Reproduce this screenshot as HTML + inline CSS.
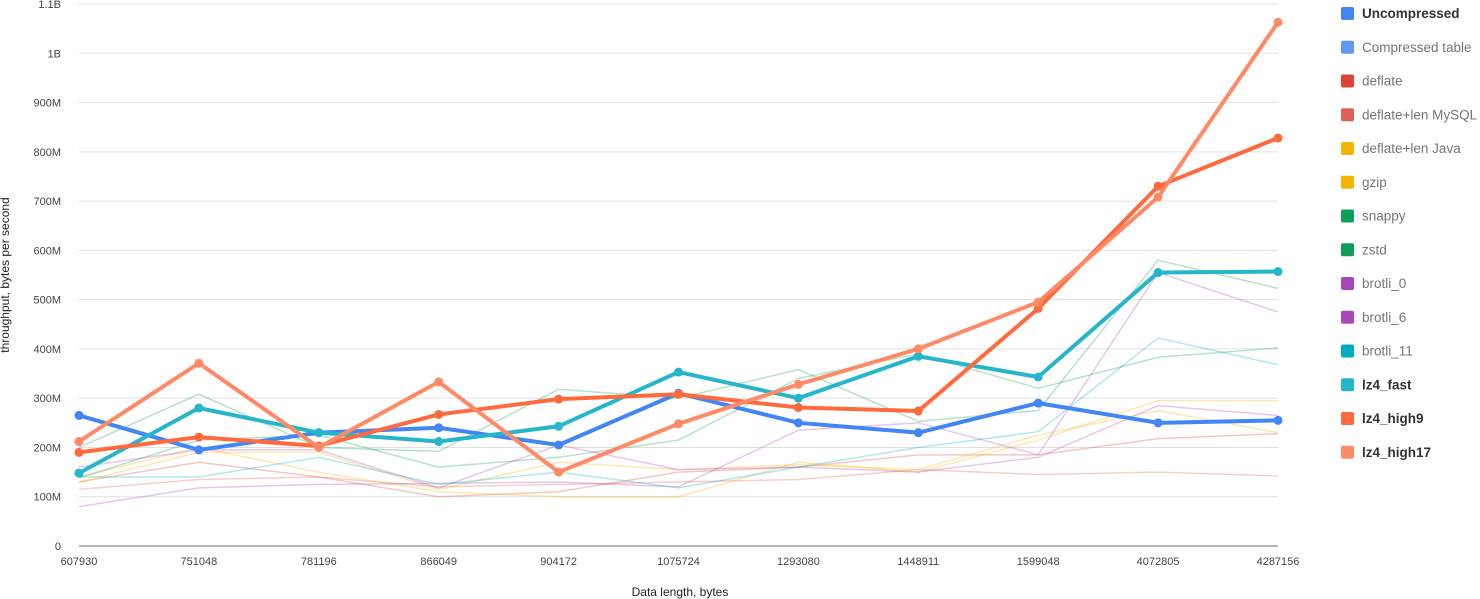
<!DOCTYPE html>
<html><head><meta charset="utf-8"><style>
html,body{margin:0;padding:0;background:#fff;width:1480px;height:599px;overflow:hidden;font-family:"Liberation Sans",sans-serif}
svg text{font-family:"Liberation Sans",sans-serif}
</style></head><body>
<svg id="chart" width="1480" height="599" xmlns="http://www.w3.org/2000/svg">
<g id="grid"></g>
<g id="yticks"></g>
<g id="xticks"></g>
<g id="faint"></g>
<g id="bold"></g>
<g id="legend"></g>
<text x="680" y="596" font-size="12" fill="#222" text-anchor="middle">Data length, bytes</text>
<text transform="translate(9,275) rotate(-90)" font-size="12" fill="#222" text-anchor="middle">throughput, bytes per second</text>
</svg>
<script>
const categories=["607930","751048","781196","866049","904172","1075724","1293080","1448911","1599048","4072805","4287156"];
const yTickValues=[0,100,200,300,400,500,600,700,800,900,1000,1100];
const yTickLabels=["0","100M","200M","300M","400M","500M","600M","700M","800M","900M","1B","1.1B"];
const seriesNames=["Uncompressed","Compressed table","deflate","deflate+len MySQL","deflate+len Java","gzip","snappy","zstd","brotli_0","brotli_6","brotli_11","lz4_fast","lz4_high9","lz4_high17"];
const seriesColors=["#4285f4","#5e97f6","#db4437","#e06055","#f4b400","#f4b400","#0f9d58","#0f9d58","#ab47bc","#ab47bc","#00acc1","#26b6cc","#ff6a3c","#ff8a65"];
const seriesBold=[true,false,false,false,false,false,false,false,false,false,false,true,true,true];
const sUncompressed=[265,195,230,240,205,310,250,230,290,250,255];
const sCompressedTable=[null,null,null,null,null,null,null,null,null,null,null];
const sDeflate=[130,170,140,100,110,150,160,185,185,218,228];
const sDeflateMysql=[115,135,140,120,125,130,135,155,145,150,142];
const sDeflateJava=[140,200,150,110,100,100,170,150,215,295,295];
const sGzip=[130,190,190,115,170,155,165,155,225,275,230];
const sSnappy=[200,308,200,192,318,300,358,253,275,580,523];
const sZstd=[138,215,225,160,180,215,340,390,320,383,402];
const sBrotli0=[80,118,125,127,130,120,235,250,185,555,475];
const sBrotli6=[160,195,195,118,205,155,160,150,180,285,265];
const sBrotli11=[140,140,180,125,150,118,160,200,232,422,368];
const sLz4Fast=[148,280,230,212,243,353,300,385,343,555,557];
const sLz4High9=[190,221,203,267,298,308,281,274,482,730,828];
const sLz4High17=[212,371,200,333,150,248,328,400,495,708,1063];
const allSeries=[sUncompressed,sCompressedTable,sDeflate,sDeflateMysql,sDeflateJava,sGzip,sSnappy,sZstd,sBrotli0,sBrotli6,sBrotli11,sLz4Fast,sLz4High9,sLz4High17];

const NS="http://www.w3.org/2000/svg";
const X0=79,X1=1278,Y0=546,Y1=4,YMAX=1100;
const xs=i=>X0+i*(X1-X0)/(categories.length-1);
const ys=v=>Y0-v/YMAX*(Y0-Y1);
function mk(tag,attrs,parent){const e=document.createElementNS(NS,tag);for(const k in attrs)e.setAttribute(k,attrs[k]);parent.appendChild(e);return e;}
const grid=document.getElementById('grid'),yt=document.getElementById('yticks'),xt=document.getElementById('xticks');
yTickValues.forEach((v,i)=>{
  const l=mk('line',{x1:X0,x2:X1,y1:ys(v),y2:ys(v),stroke:i==0?'#9e9e9e':'#e0e0e0','stroke-width':i==0?1.5:1},grid);
  
  
  const t=mk('text',{x:61,y:ys(v)+4,'font-size':11,fill:'#444','text-anchor':'end'},yt);
  t.textContent=yTickLabels[i];
  
  
});
categories.forEach((c,i)=>{
  const t=mk('text',{x:xs(i),y:565,'font-size':11,fill:'#444','text-anchor':'middle'},xt);
  t.textContent=c;
  
  
});
const faint=document.getElementById('faint'),bold=document.getElementById('bold');
allSeries.forEach((d,si)=>{
  const pts=[];d.forEach((v,i)=>{if(v!=null)pts.push(xs(i)+','+ys(v));});
  if(!pts.length)return;
  const b=seriesBold[si];
  const p=mk('polyline',{points:pts.join(' '),fill:'none',stroke:seriesColors[si],'stroke-width':b?4:1.5,'stroke-opacity':b?1:0.3,'stroke-linejoin':'round'},b?bold:faint);
  
  
  if(b)d.forEach((v,i)=>{if(v==null)return;
    const c=mk('circle',{cx:xs(i),cy:ys(v),r:4.5,fill:seriesColors[si]},bold);
    
    
  });
});
const lg=document.getElementById('legend');
seriesNames.forEach((n,i)=>{
  const y=13+i*33.75;
  const g=mk('g',{},lg);
  
  
  mk('rect',{x:1341,y:y-6,width:13,height:13,rx:2,fill:seriesColors[i]},g);
  const t=mk('text',{x:1362,y:y+5,'font-size':13.5,fill:seriesBold[i]?'#333':'#757575','font-weight':seriesBold[i]?'bold':'normal'},g);
  t.textContent=n;
});
</script>
</body></html>
